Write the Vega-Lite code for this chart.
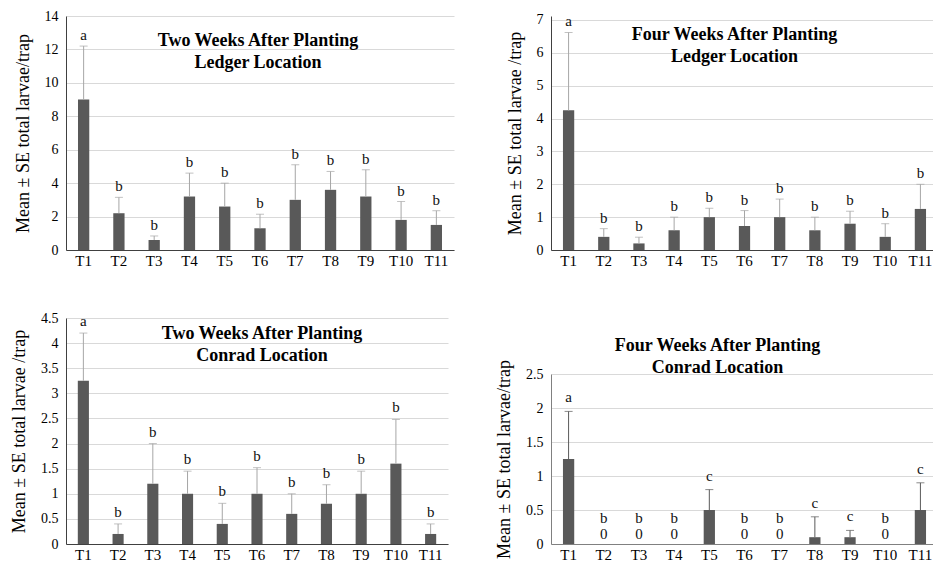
{
  "$schema": "https://vega.github.io/schema/vega-lite/v6.json",
  "padding": {"left": 10, "top": 9, "right": 0, "bottom": 0},
  "background": "white",
  "config": {
    "font": "Liberation Serif",
    "view": {"stroke": null},
    "axis": {"labelOverlap": false, "labelFont": "Liberation Serif", "titleFont": "Liberation Serif"},
    "axisY": {"labelOverlap": false},
    "axisQuantitative": {"labelOverlap": false}
  },
  "datasets": {
    "p1": [
      {"t": "T1", "mean": 9.0, "upper": 12.2, "letter": "a"},
      {"t": "T2", "mean": 2.2, "upper": 3.15, "letter": "b"},
      {"t": "T3", "mean": 0.6, "upper": 0.84, "letter": "b"},
      {"t": "T4", "mean": 3.2, "upper": 4.6, "letter": "b"},
      {"t": "T5", "mean": 2.6, "upper": 4.0, "letter": "b"},
      {"t": "T6", "mean": 1.3, "upper": 2.14, "letter": "b"},
      {"t": "T7", "mean": 3.0, "upper": 5.1, "letter": "b"},
      {"t": "T8", "mean": 3.6, "upper": 4.7, "letter": "b"},
      {"t": "T9", "mean": 3.2, "upper": 4.8, "letter": "b"},
      {"t": "T10", "mean": 1.8, "upper": 2.9, "letter": "b"},
      {"t": "T11", "mean": 1.5, "upper": 2.35, "letter": "b"}
    ],
    "p2": [
      {"t": "T1", "mean": 4.25, "upper": 6.62, "letter": "a"},
      {"t": "T2", "mean": 0.4, "upper": 0.65, "letter": "b"},
      {"t": "T3", "mean": 0.2, "upper": 0.39, "letter": "b"},
      {"t": "T4", "mean": 0.6, "upper": 1.0, "letter": "b"},
      {"t": "T5", "mean": 1.0, "upper": 1.27, "letter": "b"},
      {"t": "T6", "mean": 0.73, "upper": 1.2, "letter": "b"},
      {"t": "T7", "mean": 1.0, "upper": 1.55, "letter": "b"},
      {"t": "T8", "mean": 0.6, "upper": 1.0, "letter": "b"},
      {"t": "T9", "mean": 0.8, "upper": 1.18, "letter": "b"},
      {"t": "T10", "mean": 0.4, "upper": 0.8, "letter": "b"},
      {"t": "T11", "mean": 1.25, "upper": 2.0, "letter": "b"}
    ],
    "p3": [
      {"t": "T1", "mean": 3.25, "upper": 4.2, "letter": "a"},
      {"t": "T2", "mean": 0.2, "upper": 0.4, "letter": "b"},
      {"t": "T3", "mean": 1.2, "upper": 2.0, "letter": "b"},
      {"t": "T4", "mean": 1.0, "upper": 1.45, "letter": "b"},
      {"t": "T5", "mean": 0.4, "upper": 0.81, "letter": "b"},
      {"t": "T6", "mean": 1.0, "upper": 1.52, "letter": "b"},
      {"t": "T7", "mean": 0.6, "upper": 1.0, "letter": "b"},
      {"t": "T8", "mean": 0.8, "upper": 1.18, "letter": "b"},
      {"t": "T9", "mean": 1.0, "upper": 1.45, "letter": "b"},
      {"t": "T10", "mean": 1.6, "upper": 2.48, "letter": "b"},
      {"t": "T11", "mean": 0.2, "upper": 0.4, "letter": "b"}
    ],
    "p4": [
      {"t": "T1", "mean": 1.25, "upper": 1.95, "letter": "a"},
      {"t": "T2", "mean": 0, "upper": 0, "letter": "b"},
      {"t": "T3", "mean": 0, "upper": 0, "letter": "b"},
      {"t": "T4", "mean": 0, "upper": 0, "letter": "b"},
      {"t": "T5", "mean": 0.5, "upper": 0.8, "letter": "c"},
      {"t": "T6", "mean": 0, "upper": 0, "letter": "b"},
      {"t": "T7", "mean": 0, "upper": 0, "letter": "b"},
      {"t": "T8", "mean": 0.1, "upper": 0.4, "letter": "c"},
      {"t": "T9", "mean": 0.1, "upper": 0.2, "letter": "c"},
      {"t": "T10", "mean": 0, "upper": 0, "letter": "b"},
      {"t": "T11", "mean": 0.5, "upper": 0.9, "letter": "c"}
    ]
  },
  "spacing": 41,
  "hconcat": [
    {
      "spacing": 43,
      "vconcat": [
        {
          "width": 388, "height": 234,
          "data": {"name": "p1"},
          "title": {"text": ["Two Weeks  After Planting", "Ledger Location"], "offset": -63, "dx": -2, "font": "Liberation Serif", "fontSize": 18, "fontWeight": "bold", "color": "#000", "lineHeight": 22, "anchor": "middle", "frame": "group"},
          "encoding": {
            "x": {"field": "t", "type": "nominal", "sort": null, "scale": {"paddingInner": 0.68, "paddingOuter": 0.34}, "axis": {"title": null, "labelAngle": 0, "labelFont": "Liberation Serif", "labelFontSize": 15, "labelColor": "#000", "labelPadding": 3, "ticks": false, "grid": false, "domainColor": "#404040", "labelOverlap": false}},
            "y": {"field": "mean", "type": "quantitative", "scale": {"domain": [0, 14], "nice": false}, "axis": {"values": [0, 2, 4, 6, 8, 10, 12, 14], "labelOverlap": false, "labelFont": "Liberation Serif", "labelFontSize": 14, "labelColor": "#000", "labelPadding": 8, "ticks": false, "grid": true, "gridColor": "#d9d9d9", "domainColor": "#404040", "titleFont": "Liberation Serif", "titleFontSize": 18, "titleFontWeight": "normal", "titleColor": "#000", "titlePadding": 12, "title": "Mean ± SE total larvae/trap"}}
          },
          "layer": [
            {"mark": {"type": "bar", "color": "#595959"}},
            {"mark": {"type": "rule", "color": "#a6a6a6"}, "encoding": {"y2": {"field": "upper"}}},
            {"mark": {"type": "tick", "color": "#a6a6a6", "size": 8, "thickness": 1}, "encoding": {"y": {"field": "upper", "type": "quantitative", "axis": {"values": [0, 2, 4, 6, 8, 10, 12, 14], "labelOverlap": false, "title": "Mean ± SE total larvae/trap"}}}},
            {"mark": {"type": "text", "baseline": "bottom", "dy": -3, "font": "Liberation Serif", "fontSize": 15, "color": "#111"}, "encoding": {"y": {"field": "upper", "type": "quantitative", "axis": {"values": [0, 2, 4, 6, 8, 10, 12, 14], "labelOverlap": false, "title": "Mean ± SE total larvae/trap"}}, "text": {"field": "letter"}}}
          ]
        },
        {
          "width": 382, "height": 226,
          "data": {"name": "p3"},
          "title": {"text": ["Two Weeks  After Planting", "Conrad  Location"], "offset": -54, "dx": 5, "font": "Liberation Serif", "fontSize": 18, "fontWeight": "bold", "color": "#000", "lineHeight": 22, "anchor": "middle", "frame": "group"},
          "encoding": {
            "x": {"field": "t", "type": "nominal", "sort": null, "scale": {"paddingInner": 0.68, "paddingOuter": 0.34}, "axis": {"title": null, "labelAngle": 0, "labelFont": "Liberation Serif", "labelFontSize": 15, "labelColor": "#000", "labelPadding": 3, "ticks": false, "grid": false, "domainColor": "#404040", "labelOverlap": false}},
            "y": {"field": "mean", "type": "quantitative", "scale": {"domain": [0, 4.5], "nice": false}, "axis": {"values": [0, 0.5, 1, 1.5, 2, 2.5, 3, 3.5, 4, 4.5], "format": "~g", "labelOverlap": false, "labelFont": "Liberation Serif", "labelFontSize": 14, "labelColor": "#000", "labelPadding": 8, "ticks": false, "grid": true, "gridColor": "#d9d9d9", "domainColor": "#404040", "titleFont": "Liberation Serif", "titleFontSize": 18, "titleFontWeight": "normal", "titleColor": "#000", "titlePadding": 12, "title": "Mean ± SE  total larvae /trap"}}
          },
          "layer": [
            {"mark": {"type": "bar", "color": "#595959"}},
            {"mark": {"type": "rule", "color": "#a6a6a6"}, "encoding": {"y2": {"field": "upper"}}},
            {"mark": {"type": "tick", "color": "#a6a6a6", "size": 8, "thickness": 1}, "encoding": {"y": {"field": "upper", "type": "quantitative", "axis": {"values": [0, 0.5, 1, 1.5, 2, 2.5, 3, 3.5, 4, 4.5], "format": "~g", "labelOverlap": false, "title": "Mean ± SE  total larvae /trap"}}}},
            {"mark": {"type": "text", "baseline": "bottom", "dy": -4, "font": "Liberation Serif", "fontSize": 15, "color": "#111"}, "encoding": {"y": {"field": "upper", "type": "quantitative", "axis": {"values": [0, 0.5, 1, 1.5, 2, 2.5, 3, 3.5, 4, 4.5], "format": "~g", "labelOverlap": false, "title": "Mean ± SE  total larvae /trap"}}, "text": {"field": "letter"}}}
          ]
        }
      ]
    },
    {
      "spacing": 68,
      "vconcat": [
        {
          "width": 387, "height": 234,
          "data": {"name": "p2"},
          "title": {"text": ["Four Weeks  After Planting", "Ledger Location"], "offset": -53, "dx": -10, "font": "Liberation Serif", "fontSize": 18, "fontWeight": "bold", "color": "#000", "lineHeight": 22, "anchor": "middle", "frame": "group"},
          "encoding": {
            "x": {"field": "t", "type": "nominal", "sort": null, "scale": {"paddingInner": 0.68, "paddingOuter": 0.34}, "axis": {"title": null, "labelAngle": 0, "labelFont": "Liberation Serif", "labelFontSize": 15, "labelColor": "#000", "labelPadding": 3, "ticks": false, "grid": false, "domainColor": "#404040", "labelOverlap": false}},
            "y": {"field": "mean", "type": "quantitative", "scale": {"domain": [0, 7.1217], "nice": false}, "axis": {"values": [0, 1, 2, 3, 4, 5, 6, 7], "labelOverlap": false, "labelFont": "Liberation Serif", "labelFontSize": 14, "labelColor": "#000", "labelPadding": 8, "ticks": false, "grid": true, "gridColor": "#d9d9d9", "domainColor": "#404040", "titleFont": "Liberation Serif", "titleFontSize": 18, "titleFontWeight": "normal", "titleColor": "#000", "titlePadding": 12, "title": "Mean ± SE  total larvae /trap"}}
          },
          "layer": [
            {"mark": {"type": "bar", "color": "#595959"}},
            {"mark": {"type": "rule", "color": "#a6a6a6"}, "encoding": {"y2": {"field": "upper"}}},
            {"mark": {"type": "tick", "color": "#a6a6a6", "size": 8, "thickness": 1}, "encoding": {"y": {"field": "upper", "type": "quantitative", "axis": {"values": [0, 1, 2, 3, 4, 5, 6, 7], "labelOverlap": false, "title": "Mean ± SE  total larvae /trap"}}}},
            {"mark": {"type": "text", "baseline": "bottom", "dy": -3, "font": "Liberation Serif", "fontSize": 15, "color": "#111"}, "encoding": {"y": {"field": "upper", "type": "quantitative", "axis": {"values": [0, 1, 2, 3, 4, 5, 6, 7], "labelOverlap": false, "title": "Mean ± SE  total larvae /trap"}}, "text": {"field": "letter"}}}
          ]
        },
        {
          "width": 387, "height": 170,
          "data": {"name": "p4"},
          "title": {"text": ["Four Weeks  After Planting", "Conrad  Location"], "offset": -17, "dx": -27, "font": "Liberation Serif", "fontSize": 18, "fontWeight": "bold", "color": "#000", "lineHeight": 22, "anchor": "middle", "frame": "group"},
          "encoding": {
            "x": {"field": "t", "type": "nominal", "sort": null, "scale": {"paddingInner": 0.68, "paddingOuter": 0.34}, "axis": {"title": null, "labelAngle": 0, "labelFont": "Liberation Serif", "labelFontSize": 15, "labelColor": "#000", "labelPadding": 3, "ticks": false, "grid": false, "domainColor": "#808080", "labelOverlap": false}},
            "y": {"field": "mean", "type": "quantitative", "scale": {"domain": [0, 2.5], "nice": false}, "axis": {"values": [0, 0.5, 1, 1.5, 2, 2.5], "format": "~g", "labelOverlap": false, "labelFont": "Liberation Serif", "labelFontSize": 14, "labelColor": "#000", "labelPadding": 8, "ticks": false, "grid": true, "gridColor": "#d9d9d9", "domainColor": "#808080", "titleFont": "Liberation Serif", "titleFontSize": 18, "titleFontWeight": "normal", "titleColor": "#000", "titlePadding": 12, "title": "Mean ± SE total larvae/trap"}}
          },
          "layer": [
            {"mark": {"type": "bar", "color": "#595959"}},
            {"mark": {"type": "rule", "color": "#595959"}, "encoding": {"y2": {"field": "upper"}}},
            {"transform": [{"filter": "datum.mean > 0"}], "mark": {"type": "tick", "color": "#595959", "size": 8, "thickness": 1}, "encoding": {"y": {"field": "upper", "type": "quantitative", "axis": {"values": [0, 0.5, 1, 1.5, 2, 2.5], "format": "~g", "labelOverlap": false, "title": "Mean ± SE total larvae/trap"}}}},
            {"transform": [{"filter": "datum.mean > 0"}], "mark": {"type": "text", "baseline": "bottom", "dy": -6, "font": "Liberation Serif", "fontSize": 15, "color": "#111"}, "encoding": {"y": {"field": "upper", "type": "quantitative", "axis": {"values": [0, 0.5, 1, 1.5, 2, 2.5], "format": "~g", "labelOverlap": false, "title": "Mean ± SE total larvae/trap"}}, "text": {"field": "letter"}}},
            {"transform": [{"filter": "datum.mean == 0"}], "mark": {"type": "text", "baseline": "bottom", "dy": -18, "font": "Liberation Serif", "fontSize": 15, "color": "#111"}, "encoding": {"text": {"field": "letter"}}},
            {"transform": [{"filter": "datum.mean == 0"}], "mark": {"type": "text", "baseline": "bottom", "dy": -2, "font": "Liberation Serif", "fontSize": 15, "color": "#111"}, "encoding": {"text": {"field": "mean"}}}
          ]
        }
      ]
    }
  ]
}
